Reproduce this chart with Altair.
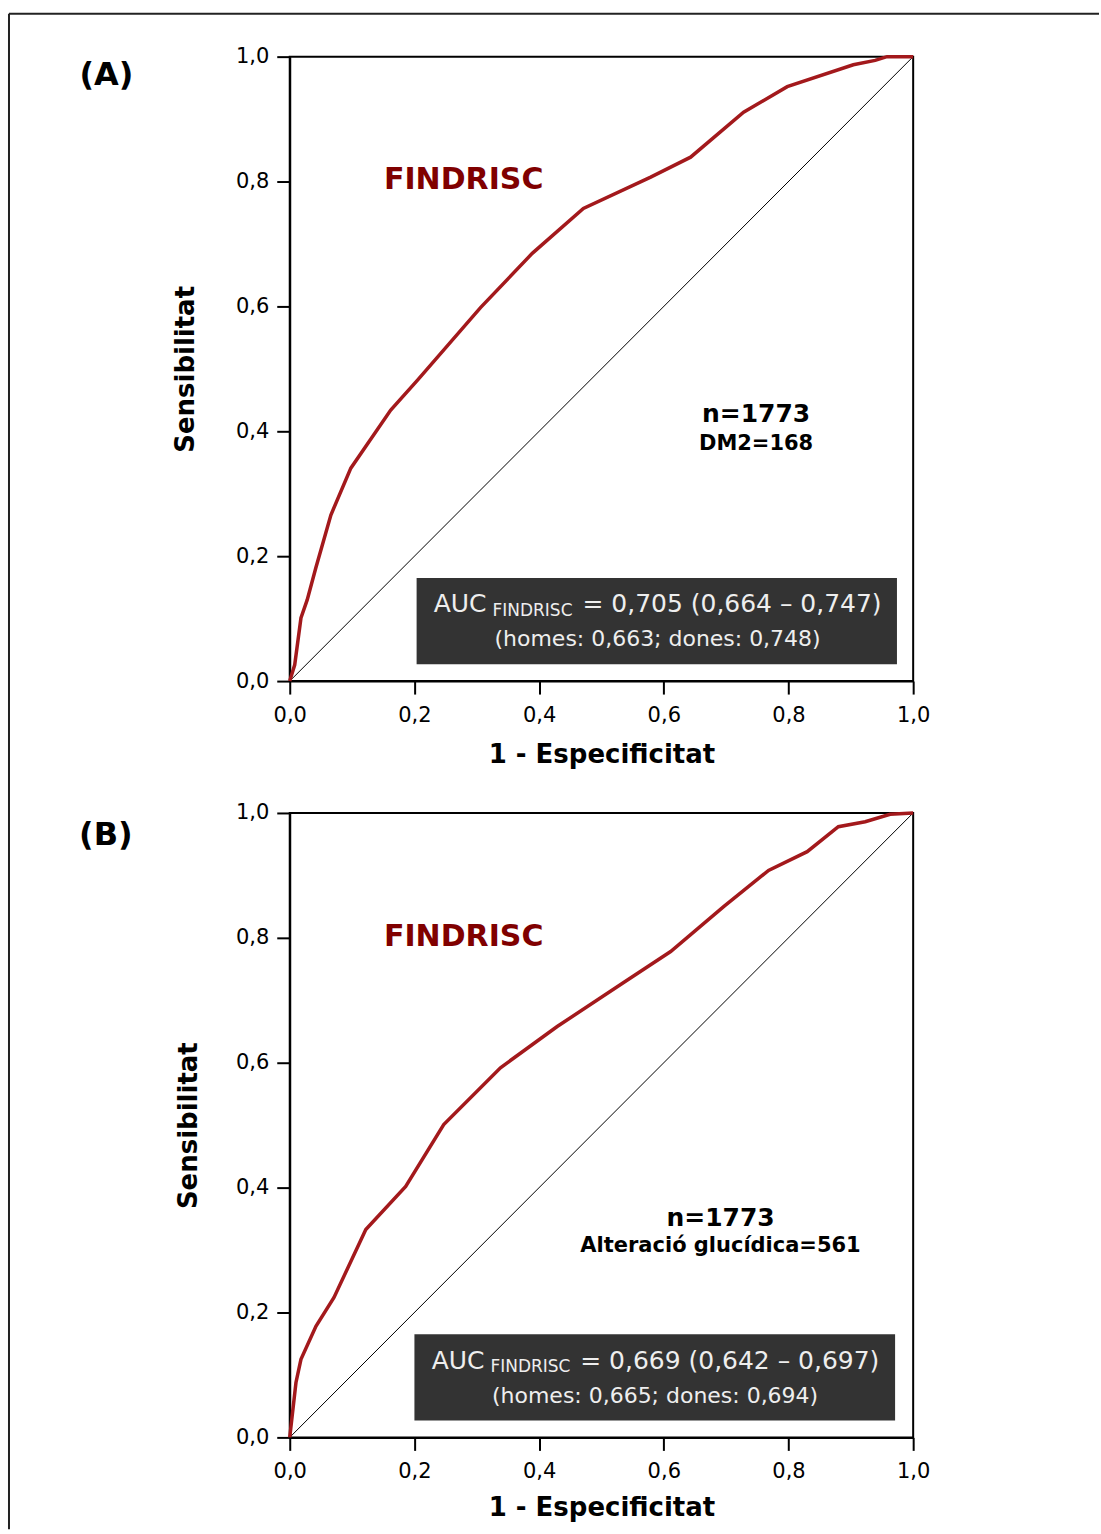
import altair as alt
import pandas as pd

FONT = "DejaVu Sans"

# ROC curve (A): FINDRISC against type 2 diabetes
fpr_a = [0.000, 0.008, 0.018, 0.028, 0.042, 0.066, 0.098, 0.162, 0.205, 0.306,
         0.389, 0.471, 0.579, 0.643, 0.728, 0.798, 0.904, 0.939, 0.958, 1.000]
tpr_a = [0.000, 0.026, 0.101, 0.130, 0.182, 0.266, 0.341, 0.434, 0.482, 0.598,
         0.685, 0.757, 0.807, 0.839, 0.911, 0.952, 0.987, 0.994, 1.000, 1.000]

# ROC curve (B): FINDRISC against any glucose alteration
fpr_b = [0.000, 0.010, 0.018, 0.042, 0.071, 0.122, 0.186, 0.247, 0.338, 0.429,
         0.535, 0.611, 0.696, 0.768, 0.830, 0.880, 0.923, 0.963, 1.000]
tpr_b = [0.000, 0.088, 0.125, 0.178, 0.224, 0.333, 0.402, 0.501, 0.592, 0.658,
         0.728, 0.778, 0.850, 0.908, 0.938, 0.978, 0.986, 0.998, 1.000]

tick_values = [0.0, 0.2, 0.4, 0.6, 0.8, 1.0]

panel_letters = ["(A)", "(B)"]
sample_lines = [["n=1773", "DM2=168"], ["n=1773", "Alteració glucídica=561"]]
auc_main = ["= 0,705 (0,664 – 0,747)", "= 0,669 (0,642 – 0,697)"]
auc_sex = ["(homes: 0,663; dones: 0,748)", "(homes: 0,665; dones: 0,694)"]

# annotation anchors in data units (x, y)
letter_pos = [(-0.294, 0.971), (-0.295, 0.965)]
model_pos = [(0.279, 0.802), (0.279, 0.802)]
sample_pos = [[(0.748, 0.428), (0.748, 0.380)], [(0.691, 0.352), (0.691, 0.306)]]
box_x = [(0.2035, 0.974), (0.200, 0.971)]
box_y = [(0.027, 0.165), (0.027, 0.165)]
auc_word_x = [0.2308, 0.2276]
auc_sub_x = [0.3253, 0.3220]
auc_val_x = [0.4696, 0.4660]
auc_line1_y = [0.123, 0.123]
auc_sub_y = [0.113, 0.113]
auc_line2 = [(0.590, 0.068), (0.586, 0.067)]

label_expr = "replace(format(datum.value, '.1f'), '.', ',')"
scale = alt.Scale(domain=[0, 1], nice=False, zero=False)


def axes(ytitle_pad, xtitle_pad):
    common = dict(values=tick_values, labelExpr=label_expr, grid=False,
                  domainColor="black", domainWidth=2, tickColor="black",
                  tickWidth=2, tickSize=13, labelFont=FONT, labelFontSize=21,
                  labelColor="black", labelFlush=False, labelOverlap=False,
                  titleFont=FONT, titleFontSize=26,
                  titleFontWeight="bold", titleColor="black")
    xa = alt.Axis(title="1 - Especificitat", labelPadding=10,
                  titlePadding=xtitle_pad, **common)
    ya = alt.Axis(title="Sensibilitat", labelPadding=8,
                  titlePadding=ytitle_pad, **common)
    return xa, ya


def panel(i, fpr, tpr, ytitle_pad, xtitle_pad, frame=False):
    xa, ya = axes(ytitle_pad, xtitle_pad)

    def X(f):
        return alt.X(f, type="quantitative", scale=scale, axis=xa)

    def Y(f):
        return alt.Y(f, type="quantitative", scale=scale, axis=ya)

    curve_df = pd.DataFrame({"fpr": fpr, "tpr": tpr, "k": range(len(fpr))})
    diag_df = pd.DataFrame({"fpr": [0.0, 1.0], "tpr": [0.0, 1.0]})

    diag = alt.Chart(diag_df).mark_line(color="black", strokeWidth=1).encode(
        x=X("fpr"), y=Y("tpr"))
    curve = alt.Chart(curve_df).mark_line(color="#a3191c", strokeWidth=3.5).encode(
        x=X("fpr"), y=Y("tpr"), order="k:Q")

    bx0, bx1 = box_x[i]
    by0, by1 = box_y[i]
    box_df = pd.DataFrame({"x": [bx0], "x2": [bx1], "y": [by0], "y2": [by1]})
    box = alt.Chart(box_df).mark_rect(color="#333333").encode(
        x=X("x"), x2=alt.X2("x2"), y=Y("y"), y2=alt.Y2("y2"))

    def text(rows, **kw):
        df = pd.DataFrame(rows, columns=["x", "y", "t"])
        return alt.Chart(df).mark_text(font=FONT, baseline="middle", **kw).encode(
            x=X("x"), y=Y("y"), text="t:N")

    lx, ly = letter_pos[i]
    letter = text([(lx, ly, panel_letters[i])], fontSize=32, fontWeight="bold",
                  color="black", align="center")
    mx, my = model_pos[i]
    model = text([(mx, my, "FINDRISC")], fontSize=30, fontWeight="bold",
                 color="#800000", align="center")
    (n1x, n1y), (n2x, n2y) = sample_pos[i]
    n_line = text([(n1x, n1y, sample_lines[i][0])], fontSize=25,
                  fontWeight="bold", color="black", align="center")
    s_line = text([(n2x, n2y, sample_lines[i][1])], fontSize=21,
                  fontWeight="bold", color="black", align="center")

    auc_word = text([(auc_word_x[i], auc_line1_y[i], "AUC")], fontSize=25,
                    color="#eeeeee", align="left")
    auc_subs = text([(auc_sub_x[i], auc_sub_y[i], "FINDRISC")], fontSize=17,
                    color="#eeeeee", align="left")
    auc_val = text([(auc_val_x[i], auc_line1_y[i], auc_main[i])], fontSize=25,
                   color="#eeeeee", align="left")
    l2x, l2y = auc_line2[i]
    auc_l2 = text([(l2x, l2y, auc_sex[i])], fontSize=22, color="#eeeeee",
                  align="center")

    layers = [diag, curve, box, letter, model, n_line, s_line,
              auc_word, auc_subs, auc_val, auc_l2]

    if frame:
        one = pd.DataFrame({"k": [0]})
        left_edge = alt.Chart(one).mark_rule(color="#222222", strokeWidth=2).encode(
            x=alt.value(-281), y=alt.value(-43), y2=alt.value(1474))
        top_edge = alt.Chart(one).mark_rule(color="#222222", strokeWidth=2).encode(
            x=alt.value(-281), x2=alt.value(810), y=alt.value(-43))
        layers = [left_edge, top_edge] + layers

    return alt.layer(*layers).properties(width=624, height=625)


top = panel(0, fpr_a, tpr_a, ytitle_pad=37, xtitle_pad=16, frame=True)
bottom = panel(1, fpr_b, tpr_b, ytitle_pad=34, xtitle_pad=13)

chart = alt.vconcat(top, bottom, spacing=132, bounds="flush").properties(
    padding={"left": 7, "top": 11, "right": 0, "bottom": 0},
    background="white",
).configure_view(stroke="black", strokeWidth=2)

chart.save("out.html", embed_options={"renderer": "svg", "actions": False})
